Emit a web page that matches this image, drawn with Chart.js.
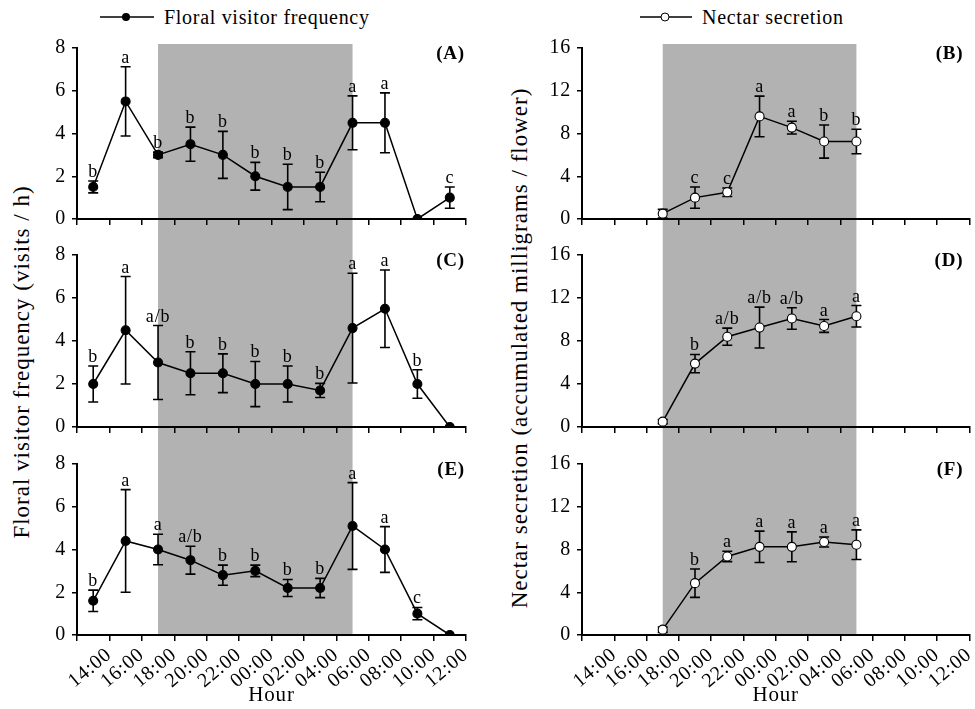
<!DOCTYPE html>
<html>
<head>
<meta charset="utf-8">
<script src="https://cdn.jsdelivr.net/npm/chart.js@4"></script>
<style>
  body{margin:0;background:#fff;font-family:'Liberation Serif',serif;color:#000}
  #wrap{position:relative;width:975px;height:709px;overflow:hidden}
  canvas{position:absolute}
  .leg{position:absolute;font-size:20px;line-height:20px;letter-spacing:0.7px;white-space:nowrap;display:flex;align-items:center}
  .leg svg{margin-right:10px}
  .ytitle{position:absolute;font-size:23px;letter-spacing:1px;white-space:nowrap;transform:translate(-50%,-50%) rotate(-90deg)}
</style>
</head>
<body>
<div id="wrap">
  <div class="leg" style="left:100px;top:7px">
    <svg width="54" height="12"><line x1="0" y1="6" x2="54" y2="6" stroke="#000" stroke-width="1.5"/><circle cx="26" cy="6" r="4" fill="#000"/></svg>Floral visitor frequency
  </div>
  <div class="leg" style="left:640px;top:7px">
    <svg width="52" height="12"><line x1="0" y1="6" x2="52" y2="6" stroke="#000" stroke-width="1.5"/><circle cx="25" cy="6" r="4" fill="#fff" stroke="#000" stroke-width="1"/></svg>Nectar secretion
  </div>
  <div class="ytitle" style="left:22px;top:362px">Floral visitor frequency (visits / h)</div>
  <div class="ytitle" style="left:520px;top:348px">Nectar secretion (accumulated milligrams / flower)</div>
</div>
<script>
const hours = ['14:00','16:00','18:00','20:00','22:00','00:00','02:00','04:00','06:00','08:00','10:00','12:00']
const nightStart = '18:00', nightEnd = '06:00'

// floral visitor frequency (visits / h), mean, error, significance letter
const visitsA = [1.5, 5.5, 3.0, 3.5, 3.0, 2.0, 1.5, 1.5, 4.5, 4.5, 0, 1.0]
const errA    = [0.28, 1.62, 0.13, 0.8, 1.1, 0.65, 1.06, 0.69, 1.26, 1.4, null, 0.5]
const sigA    = ['b','a','b','b','b','b','b','b','a','a','','c']

const visitsC = [2.0, 4.5, 3.0, 2.5, 2.5, 2.0, 2.0, 1.7, 4.6, 5.5, 2.0, 0]
const errC    = [0.84, 2.5, 1.72, 1.0, 0.9, 1.05, 0.84, 0.33, 2.55, 1.8, 0.66, null]
const sigC    = ['b','a','a/b','b','b','b','b','b','a','a','b','']

const visitsE = [1.6, 4.4, 4.0, 3.5, 2.8, 3.0, 2.2, 2.2, 5.1, 4.0, 1.0, 0]
const errE    = [0.5, 2.4, 0.71, 0.65, 0.47, 0.27, 0.4, 0.45, 2.03, 1.07, 0.29, null]
const sigE    = ['b','a','a','a/b','b','b','b','b','a','a','c','']

// nectar secretion (accumulated mg / flower)
const nectarB = [null, null, 0.5, 2.0, 2.5, 9.6, 8.55, 7.25, 7.25, null, null, null]
const errB    = [null, null, 0.4, 1.0, 0.4, 1.9, 0.6, 1.55, 1.15, null, null, null]
const sigB    = ['','','','c','c','a','a','b','b','','','']

const nectarD = [null, null, 0.5, 5.9, 8.4, 9.25, 10.1, 9.4, 10.3, null, null, null]
const errD    = [null, null, 0.2, 0.85, 0.8, 1.9, 1.0, 0.6, 1.0, null, null, null]
const sigD    = ['','','','b','a/b','a/b','a/b','a','a','','','']

const nectarF = [null, null, 0.5, 4.85, 7.35, 8.25, 8.25, 8.7, 8.45, null, null, null]
const errF    = [null, null, 0.25, 1.33, 0.48, 1.47, 1.4, 0.47, 1.39, null, null, null]
const sigF    = ['','','','b','a','a','a','a','a','','','']

const FONT = 'Liberation Serif'

// canvas rows: canvas top, height, chart top padding, x axis height
const ROWS = [
  {top:36, h:201, pt:12, xh:18, shadeTop:-4, shadeBottom:'canvas'},
  {top:237, h:209, pt:18, xh:19, shadeTop:'canvas', shadeBottom:'canvas'},
  {top:446, h:263, pt:18, xh:74, shadeTop:'canvas', shadeBottom:'area'}
]
const COLS = [
  {left:0, w:480, yw:77, pr:14, yMax:8, step:2, letterDx:-1, open:false},
  {left:490, w:485, yw:92, pr:3, yMax:16, step:4, letterDx:-6, open:true}
]

const panels = [
  {row:0, col:0, tag:'(A)', data:visitsA, errs:errA, sigs:sigA},
  {row:0, col:1, tag:'(B)', data:nectarB, errs:errB, sigs:sigB},
  {row:1, col:0, tag:'(C)', data:visitsC, errs:errC, sigs:sigC},
  {row:1, col:1, tag:'(D)', data:nectarD, errs:errD, sigs:sigD},
  {row:2, col:0, tag:'(E)', data:visitsE, errs:errE, sigs:sigE},
  {row:2, col:1, tag:'(F)', data:nectarF, errs:errF, sigs:sigF}
]

// the figure's Times text runs a bit wide, so space the canvas letters out a little
const spacing = {
  id:'spacing',
  beforeLayout(chart){ chart.ctx.letterSpacing = '0.8px' },
  beforeDraw(chart){ chart.ctx.letterSpacing = '0.8px' }
}

const nightShade = {
  id:'nightShade',
  beforeDraw(chart, args, opts){
    const {ctx, chartArea, scales:{x}} = chart
    const x0 = x.getPixelForValue(hours.indexOf(nightStart))
    const x1 = x.getPixelForValue(hours.indexOf(nightEnd))
    const y0 = opts.top === 'canvas' ? 0 : chartArea.top + opts.top
    const y1 = opts.bottom === 'canvas' ? chart.height : chartArea.bottom
    ctx.save()
    ctx.fillStyle = '#b2b2b2'
    ctx.fillRect(x0, y0, x1 - x0, y1 - y0)
    ctx.restore()
  }
}

const errorBars = {
  id:'errorBars',
  beforeDatasetsDraw(chart){
    const {ctx, scales:{y}} = chart
    const ds = chart.data.datasets[0]
    const meta = chart.getDatasetMeta(0)
    ctx.save()
    ctx.strokeStyle = '#000'
    ctx.lineWidth = 1.6
    ds.errs.forEach((e, i) => {
      if(e == null || ds.data[i] == null) return
      const px = meta.data[i].x
      const t = y.getPixelForValue(ds.data[i] + e)
      const b = y.getPixelForValue(ds.data[i] - e)
      ctx.beginPath()
      ctx.moveTo(px, t); ctx.lineTo(px, b)
      ctx.moveTo(px - 5, t); ctx.lineTo(px + 5, t)
      ctx.moveTo(px - 5, b); ctx.lineTo(px + 5, b)
      ctx.stroke()
    })
    ctx.restore()
  },
  afterDatasetsDraw(chart, args, opts){
    const {ctx, chartArea, scales:{y}} = chart
    const ds = chart.data.datasets[0]
    const meta = chart.getDatasetMeta(0)
    ctx.save()
    ctx.fillStyle = '#000'
    ctx.font = '18px ' + FONT
    ctx.textAlign = 'center'
    ctx.textBaseline = 'alphabetic'
    ds.sigs.forEach((s, i) => {
      if(!s || ds.data[i] == null) return
      const top = y.getPixelForValue(ds.data[i] + (ds.errs[i] || 0))
      ctx.fillText(s, meta.data[i].x, top - 4)
    })
    ctx.font = 'bold 19px ' + FONT
    ctx.textAlign = 'right'
    ctx.textBaseline = 'middle'
    ctx.fillText(opts.tag, chartArea.right + opts.dx, chartArea.top + 6)
    ctx.restore()
  }
}

panels.forEach((p, k) => {
  const R = ROWS[p.row], C = COLS[p.col]
  const cv = document.createElement('canvas')
  cv.width = C.w; cv.height = R.h
  cv.style.left = C.left + 'px'; cv.style.top = R.top + 'px'
  document.getElementById('wrap').appendChild(cv)
  const bottomRow = p.row === 2
  new Chart(cv, {
    type:'line',
    data:{
      labels:hours,
      datasets:[{
        data:p.data, errs:p.errs, sigs:p.sigs,
        borderColor:'#000', borderWidth:1.5,
        pointRadius:4.5, pointHoverRadius:4.5,
        pointBackgroundColor:C.open ? '#fff' : '#000',
        pointBorderColor:'#000', pointBorderWidth:1.1,
        tension:0, spanGaps:false
      }]
    },
    options:{
      responsive:false, animation:false, devicePixelRatio:1,
      layout:{padding:{top:R.pt, right:C.pr, left:0, bottom:0}},
      plugins:{
        legend:{display:false}, tooltip:{enabled:false},
        nightShade:{top:R.shadeTop, bottom:R.shadeBottom},
        errorBars:{tag:p.tag, dx:C.letterDx}
      },
      scales:{
        x:{
          type:'category', offset:true,
          grid:{offset:true, drawOnChartArea:false, drawTicks:true, tickLength:6, color:'#000', lineWidth:1.5},
          border:{display:true, color:'#000', width:2},
          ticks:{display:bottomRow, autoSkip:false, minRotation:40, maxRotation:40, labelOffset:16, padding:2,
                 color:'#000', font:{family:FONT, size:20}},
          title:{display:bottomRow, text:'Hour', color:'#000', font:{family:FONT, size:21}, padding:{top:0, bottom:1}},
          afterFit(s){ s.height = R.xh; s.paddingLeft = 0; s.paddingRight = 0 }
        },
        y:{
          min:0, max:C.yMax,
          grid:{drawOnChartArea:false, drawTicks:true, tickLength:5, color:'#000', lineWidth:1.5},
          border:{display:true, color:'#000', width:2},
          ticks:{stepSize:C.step, padding:6, color:'#000', font:{family:FONT, size:20}},
          afterFit(s){ s.width = C.yw; s.paddingTop = 0; s.paddingBottom = 0 }
        }
      }
    },
    plugins:[spacing, nightShade, errorBars]
  })
})
</script>
</body>
</html>
